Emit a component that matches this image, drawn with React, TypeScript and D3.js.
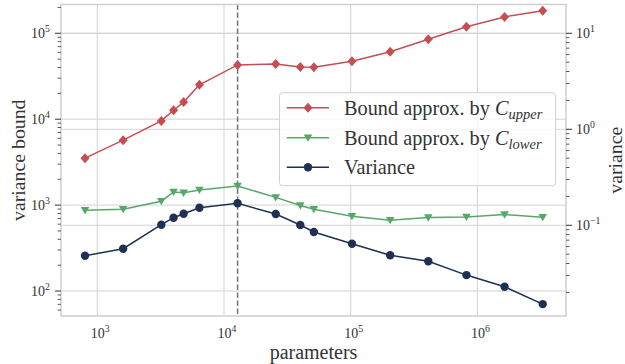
import React from "react";
import * as d3 from "d3";

const params = [800, 1600, 3200, 4000, 4800, 6400, 12800, 25600, 40000, 51200, 102400, 204800, 409600, 819200, 1638400, 3276800];
const boundUpper = [3520, 5700, 9550, 12700, 15800, 25100, 42800, 44000, 40500, 40300, 47200, 61100, 85200, 119000, 155000, 183000];
const boundLower = [870, 895, 1110, 1420, 1390, 1500, 1670, 1230, 990, 895, 742, 668, 716, 728, 776, 723];
const variance = [0.0482, 0.057, 0.1014, 0.12, 0.132, 0.1525, 0.1694, 0.131, 0.1006, 0.0851, 0.0643, 0.0487, 0.0422, 0.0303, 0.0229, 0.0151];
const selectedParams = 12800;
const xTickExps = [3, 4, 5, 6];
const leftTickExps = [2, 3, 4, 5];
const rightTickExps = [-1, 0, 1];
const legendLabels = ["Bound approx. by ", "Bound approx. by ", "Variance"];
const legendSubs = ["upper", "lower", ""];

const W = 625, H = 364;
const L = 61, R = 566, T = 4.5, B = 316;
const FONT = "'Liberation Serif', 'Times New Roman', serif";
const TXT = "#333";
const GRID = "#d3d3d3";
const RED = "#c44e52", GREEN = "#55a868", NAVY = "#1f3152";

function minorTicks(lo: number, hi: number) {
  const out: number[] = [];
  for (let e = Math.floor(Math.log10(lo)); e <= Math.ceil(Math.log10(hi)); e++) {
    for (let m = 2; m <= 9; m++) {
      const v = m * Math.pow(10, e);
      if (v >= lo * 0.999 && v <= hi * 1.001) out.push(v);
    }
  }
  return out;
}

const Pow = ({ x, y, e, anchor, size }: { x: number; y: number; e: number; anchor: string; size: number }) => (
  <text x={x} y={y} textAnchor={anchor as any} fontFamily={FONT} fontSize={size} fill={TXT}>
    10
    <tspan dy={-size * 0.42} fontSize={size * 0.7}>{e < 0 ? "\u2212" + (-e) : String(e)}</tspan>
  </text>
);

export default function App() {
  const x = d3.scaleLog().domain([Math.pow(10, 3 - (97.3 - L) / 126.7), Math.pow(10, 6 + (R - 97.3 - 3 * 126.7) / 126.7)]).range([L, R]);
  const yL = d3.scaleLog().domain([Math.pow(10, 2 - (B - 291) / 86), Math.pow(10, 5 + (33.3 - T) / 86)]).range([B, T]);
  const yR = d3.scaleLog().domain([Math.pow(10, 1 - (B - 33.3) / 96), Math.pow(10, 1 + (33.3 - T) / 96)]).range([B, T]);

  const lineL = d3.line<number>().x((_, i) => x(params[i])).y((d) => yL(d));
  const lineR = d3.line<number>().x((_, i) => x(params[i])).y((d) => yR(d));

  const yLd = yL.domain(), yRd = yR.domain();
  const leftMinor = minorTicks(yLd[0], yLd[1]);
  const rightMinor = minorTicks(yRd[0], yRd[1]);

  const diamond = (cx: number, cy: number, s = 5) => `M${cx},${cy - s}L${cx + s * 0.9},${cy}L${cx},${cy + s}L${cx - s * 0.9},${cy}Z`;
  const triDown = (cx: number, cy: number, s = 4.3) => `M${cx - s},${cy - s * 0.75}L${cx + s},${cy - s * 0.75}L${cx},${cy + s * 0.95}Z`;

  const legX = 279.5, legY = 92.7, legW = 276, legH = 93;
  const rows = [107.7, 137.7, 167.3];
  const colors = [RED, GREEN, NAVY];

  return (
    <svg width={W} height={H} style={{ position: "absolute", left: 0, top: 0 }}>
      <rect x={0} y={0} width={W} height={H} fill="white" />
      {xTickExps.map((e) => (
        <line key={"gx" + e} x1={x(Math.pow(10, e))} x2={x(Math.pow(10, e))} y1={T} y2={B} stroke={GRID} strokeWidth={1} />
      ))}
      {leftTickExps.map((e) => (
        <line key={"gl" + e} x1={L} x2={R} y1={yL(Math.pow(10, e))} y2={yL(Math.pow(10, e))} stroke={GRID} strokeWidth={1} />
      ))}
      {rightTickExps.map((e) => (
        <line key={"gr" + e} x1={L} x2={R} y1={yR(Math.pow(10, e))} y2={yR(Math.pow(10, e))} stroke={GRID} strokeWidth={1} />
      ))}
      <line x1={x(selectedParams)} x2={x(selectedParams)} y1={T} y2={B} stroke="#777" strokeWidth={1.5} strokeDasharray="5.5,2.5" />
      <path d={lineL(boundUpper) || ""} fill="none" stroke={RED} strokeWidth={1.5} />
      <path d={lineL(boundLower) || ""} fill="none" stroke={GREEN} strokeWidth={1.5} />
      <path d={lineR(variance) || ""} fill="none" stroke={NAVY} strokeWidth={1.5} />
      {boundUpper.map((v, i) => (
        <path key={"du" + i} d={diamond(x(params[i]), yL(v))} fill={RED} />
      ))}
      {boundLower.map((v, i) => (
        <path key={"dl" + i} d={triDown(x(params[i]), yL(v))} fill={GREEN} />
      ))}
      {variance.map((v, i) => (
        <circle key={"dv" + i} cx={x(params[i])} cy={yR(v)} r={4.2} fill={NAVY} />
      ))}
      <rect x={L} y={T} width={R - L} height={B - T} fill="none" stroke="#cfcfcf" strokeWidth={1.5} />
      {leftTickExps.map((e) => (
        <g key={"lt" + e}>
          <line x1={L - 6} x2={L} y1={yL(Math.pow(10, e))} y2={yL(Math.pow(10, e))} stroke={TXT} strokeWidth={1} />
          <Pow x={50} y={yL(Math.pow(10, e)) + 5} e={e} anchor="end" size={14} />
        </g>
      ))}
      {leftMinor.map((v, i) => (
        <line key={"lm" + i} x1={L - 3.5} x2={L} y1={yL(v)} y2={yL(v)} stroke={TXT} strokeWidth={0.8} />
      ))}
      {rightTickExps.map((e) => (
        <g key={"rt" + e}>
          <line x1={R} x2={R + 6} y1={yR(Math.pow(10, e))} y2={yR(Math.pow(10, e))} stroke={TXT} strokeWidth={1} />
          <Pow x={576} y={yR(Math.pow(10, e)) + 5} e={e} anchor="start" size={14} />
        </g>
      ))}
      {rightMinor.map((v, i) => (
        <line key={"rm" + i} x1={R} x2={R + 3.5} y1={yR(v)} y2={yR(v)} stroke={TXT} strokeWidth={0.8} />
      ))}
      {xTickExps.map((e) => (
        <Pow key={"xt" + e} x={x(Math.pow(10, e)) + 3} y={338} e={e} anchor="middle" size={14} />
      ))}
      <text x={(L + R) / 2} y={359} textAnchor="middle" fontFamily={FONT} fontSize={20} fill={TXT}>parameters</text>
      <text transform={`translate(24.5,${(T + B) / 2}) rotate(-90)`} textAnchor="middle" fontFamily={FONT} fontSize={19.8} fill={TXT}>variance bound</text>
      <text transform={`translate(621.5,${(T + B) / 2}) rotate(-90)`} textAnchor="middle" fontFamily={FONT} fontSize={19.8} fill={TXT}>variance</text>
      <rect x={legX} y={legY} width={legW} height={legH} rx={3} fill="white" fillOpacity={0.8} stroke="#d0d0d0" strokeWidth={1} />
      {rows.map((ry, i) => (
        <g key={"lg" + i}>
          <line x1={286.7} x2={329} y1={ry} y2={ry} stroke={colors[i]} strokeWidth={1.5} />
          {i === 0 && <path d={diamond(308, ry)} fill={RED} />}
          {i === 1 && <path d={triDown(308, ry)} fill={GREEN} />}
          {i === 2 && <circle cx={308} cy={ry} r={4.2} fill={NAVY} />}
          <text x={344} y={ry + 7} fontFamily={FONT} fontSize={20.3} fill={TXT}>
            {legendLabels[i]}
            {legendSubs[i] && (
              <>
                <tspan fontStyle="italic">C</tspan>
                <tspan fontStyle="italic" fontSize={14.5} dy={4}>{legendSubs[i]}</tspan>
              </>
            )}
          </text>
        </g>
      ))}
    </svg>
  );
}
